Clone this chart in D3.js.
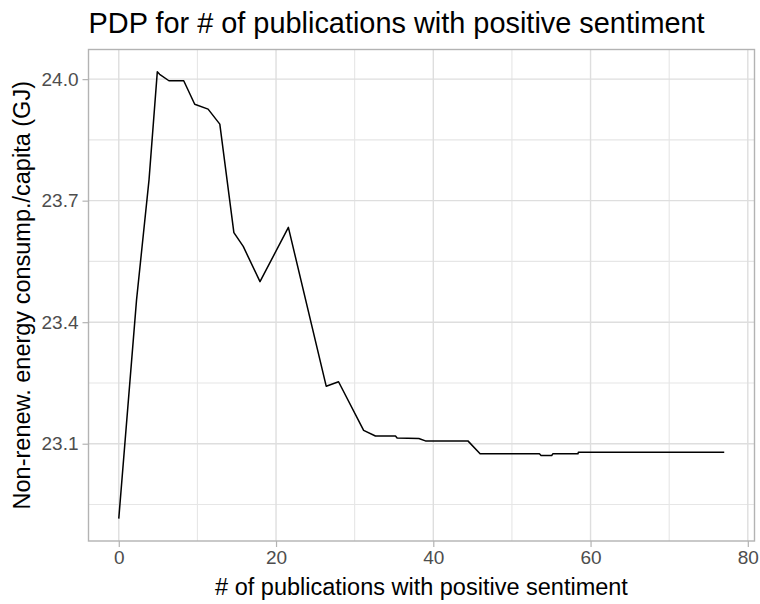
<!DOCTYPE html>
<html>
<head>
<meta charset="utf-8">
<script src="https://cdn.jsdelivr.net/npm/d3@7"></script>
<style>
  body { margin: 0; background: #fff; }
  text { font-family: "Liberation Sans", Arial, sans-serif; }
</style>
</head>
<body>
<svg id="chart" width="760" height="604"></svg>
<script>
// ---- Data ----
const xValues = [0, 2.26, 3.85, 4.9, 5.2, 6.38, 8.26, 9.66, 11.36, 12.85, 14.64, 15.83, 17.96, 21.57,
  26.38, 27.95, 31.14, 32.64, 35.19, 35.4, 38.16, 39.0, 44.4, 45.95, 53.5, 53.7, 55.06, 55.2, 58.4, 58.45, 77];
const yValues = [22.915, 23.455, 23.752, 24.018, 24.012, 23.996, 23.996, 23.938, 23.926, 23.889, 23.621, 23.587, 23.50, 23.634,
  23.242, 23.253, 23.133, 23.119, 23.119, 23.114, 23.113, 23.107, 23.107, 23.075, 23.075, 23.071, 23.071, 23.075, 23.075, 23.079, 23.079];
const xMajorTicks = [0, 20, 40, 60, 80];
const xMinorTicks = [10, 30, 50, 70];
const yMajorTicks = [23.1, 23.4, 23.7, 24.0];
const yMinorTicks = [22.95, 23.25, 23.55, 23.85];
const titleText = "PDP for # of publications with positive sentiment";
const xTitle = "# of publications with positive sentiment";
const yTitle = "Non-renew. energy consump./capita (GJ)";

const data = xValues.map((x, i) => ({ x, y: yValues[i] }));

// ---- Layout ----
const panel = { left: 88.5, top: 49.5, right: 754.5, bottom: 541 };
const svg = d3.select("#chart");

const xExt = d3.extent(xValues), yExt = d3.extent(yValues);
const xPad = (xExt[1] - xExt[0]) * 0.05, yPad = (yExt[1] - yExt[0]) * 0.05;
const x = d3.scaleLinear().domain([xExt[0] - xPad, xExt[1] + xPad]).range([panel.left, panel.right]);
const y = d3.scaleLinear().domain([yExt[0] - yPad, yExt[1] + yPad]).range([panel.bottom, panel.top]);

const g = svg.append("g");

// minor grid
g.selectAll(".xminor").data(xMinorTicks.filter(v => x(v) > panel.left && x(v) < panel.right)).join("line")
  .attr("x1", d => x(d)).attr("x2", d => x(d)).attr("y1", panel.top).attr("y2", panel.bottom)
  .attr("stroke", "#e6e6e6").attr("stroke-width", 1.1);
g.selectAll(".yminor").data(yMinorTicks.filter(v => y(v) < panel.bottom && y(v) > panel.top)).join("line")
  .attr("y1", d => y(d)).attr("y2", d => y(d)).attr("x1", panel.left).attr("x2", panel.right)
  .attr("stroke", "#e6e6e6").attr("stroke-width", 1.1);
// major grid
g.selectAll(".xmajor").data(xMajorTicks).join("line")
  .attr("x1", d => x(d)).attr("x2", d => x(d)).attr("y1", panel.top).attr("y2", panel.bottom)
  .attr("stroke", "#dedede").attr("stroke-width", 1.4);
g.selectAll(".ymajor").data(yMajorTicks).join("line")
  .attr("y1", d => y(d)).attr("y2", d => y(d)).attr("x1", panel.left).attr("x2", panel.right)
  .attr("stroke", "#dedede").attr("stroke-width", 1.4);

// line
const line = d3.line().x(d => x(d.x)).y(d => y(d.y));
g.append("path").datum(data).attr("d", line)
  .attr("fill", "none").attr("stroke", "#000").attr("stroke-width", 1.5)
  .attr("stroke-linejoin", "round");

// panel border
g.append("rect").attr("x", panel.left).attr("y", panel.top)
  .attr("width", panel.right - panel.left).attr("height", panel.bottom - panel.top)
  .attr("fill", "none").attr("stroke", "#b3b3b3").attr("stroke-width", 1.4);

// axes
const xAxis = d3.axisBottom(x).tickValues(xMajorTicks).tickFormat(d3.format("d")).tickSize(6).tickPadding(4);
const yAxis = d3.axisLeft(y).tickValues(yMajorTicks).tickFormat(d3.format(".1f")).tickSize(6).tickPadding(4);

const gx = svg.append("g").attr("transform", `translate(0,${panel.bottom})`).call(xAxis);
const gy = svg.append("g").attr("transform", `translate(${panel.left},0)`).call(yAxis);
[gx, gy].forEach(a => {
  a.select(".domain").remove();
  a.selectAll(".tick line").attr("stroke", "#b3b3b3").attr("stroke-width", 1.2);
  a.selectAll(".tick text").attr("fill", "#4d4d4d").style("font-size", "19px")
    .style("font-family", "'Liberation Sans', Arial, sans-serif");
});

// titles
svg.append("text").attr("x", panel.left).attr("y", 33)
  .style("font-size", "28.9px").attr("fill", "#000").text(titleText);
svg.append("text").attr("x", (panel.left + panel.right) / 2).attr("y", 595)
  .attr("text-anchor", "middle").style("font-size", "23.5px").attr("fill", "#000").text(xTitle);
svg.append("text").attr("transform", `translate(30,${(panel.top + panel.bottom) / 2}) rotate(-90)`)
  .attr("text-anchor", "middle").style("font-size", "23.5px").attr("fill", "#000").text(yTitle);
</script>
</body>
</html>
